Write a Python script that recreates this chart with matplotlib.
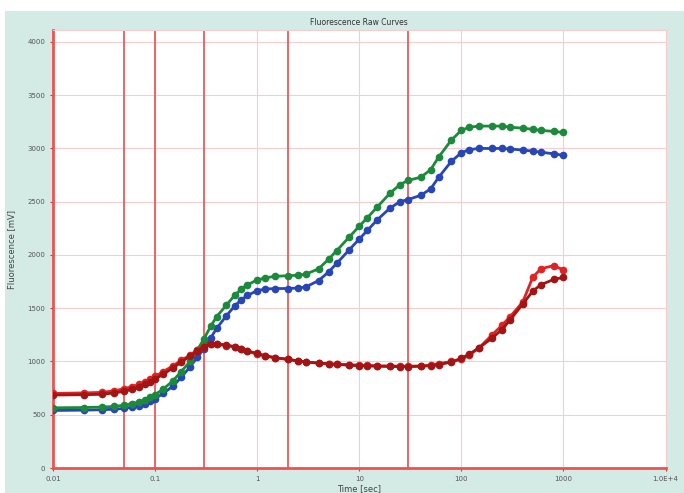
import matplotlib.pyplot as plt
from matplotlib.patches import Rectangle

# time points (s)
time = [0.01, 0.02, 0.03, 0.04, 0.05, 0.06, 0.07, 0.08, 0.09, 0.1,
        0.12, 0.15, 0.18, 0.22, 0.26, 0.3, 0.35, 0.4, 0.5, 0.6,
        0.7, 0.8, 1.0, 1.2, 1.5, 2.0, 2.5, 3, 4, 5,
        6, 8, 10, 12, 15, 20, 25, 30, 40, 50,
        60, 80, 100, 120, 150, 200, 250, 300, 400, 500,
        600, 800, 1000]

green = [565, 568, 572, 578, 590, 605, 620, 640, 665, 690,
         740, 820, 905, 1000, 1110, 1210, 1330, 1420, 1530, 1620,
         1680, 1720, 1765, 1785, 1800, 1805, 1810, 1820, 1870, 1960,
         2040, 2170, 2270, 2350, 2450, 2580, 2660, 2700, 2730, 2800,
         2920, 3080, 3170, 3200, 3210, 3210, 3210, 3200, 3190, 3180,
         3170, 3160, 3150]

blue = [540, 543, 547, 552, 560, 572, 585, 605, 625, 650,
        700, 770, 850, 950, 1040, 1120, 1220, 1310, 1430, 1520,
        1580, 1620, 1665, 1680, 1685, 1685, 1690, 1700, 1760, 1840,
        1920, 2050, 2150, 2230, 2330, 2440, 2500, 2520, 2560, 2620,
        2730, 2880, 2960, 2990, 3000, 3000, 3000, 2995, 2985, 2975,
        2965, 2950, 2935]

red = [700, 705, 710, 725, 745, 765, 785, 810, 835, 860,
       905, 960, 1010, 1060, 1110, 1145, 1160, 1160, 1150, 1135,
       1115, 1095, 1070, 1050, 1035, 1020, 1005, 995, 985, 980,
       975, 970, 965, 963, 960, 958, 956, 956, 958, 965,
       980, 1000, 1020, 1060, 1130, 1250, 1340, 1420, 1560, 1790,
       1870, 1900, 1860]

darkred = [685, 688, 692, 705, 720, 740, 760, 785, 810, 835,
           880, 940, 995, 1050, 1100, 1140, 1165, 1165, 1155, 1140,
           1120, 1100, 1075, 1055, 1035, 1020, 1005, 995, 985, 978,
           972, 965, 960, 958, 955, 953, 952, 952, 955, 960,
           970, 995, 1030, 1070, 1130, 1220, 1300, 1390, 1540, 1660,
           1720, 1770, 1790]

markers_t = [0.05, 0.1, 0.3, 2, 30]
xticks = [0.01, 0.1, 1, 10, 100, 1000, 10000]
xticklabels = ['0.01', '0.1', '1', '10', '100', '1000', '1.0E+4']
yticks = [0, 500, 1000, 1500, 2000, 2500, 3000, 3500, 4000]

fig = plt.figure(figsize=(6.84, 4.93), dpi=100)
fig.patch.set_facecolor('white')
fig.patches.append(Rectangle((5 / 684, 0), 1, 1 - 11 / 493, transform=fig.transFigure,
                             facecolor='#d4eae5', edgecolor='none', zorder=-10))

ax = fig.add_axes([0.0775, 0.0507, 0.8955, 0.888])
ax.set_facecolor('white')
ax.set_xscale('log')
ax.set_xlim(0.01, 10000)
ax.set_ylim(0, 4110)

ax.grid(True, which='major', color='#f7cccc', linewidth=0.8)
ax.minorticks_off()

for t in markers_t:
    ax.axvline(t, color='#f06464', linewidth=1.4, zorder=2)

for vals, col in [(blue, '#2747b8'), (green, '#1b8a3c'),
                  (red, '#e02424'), (darkred, '#a31414')]:
    ax.plot(time, vals, '-o', color=col, markersize=4.5, linewidth=2, zorder=3)

ax.set_xticks(xticks)
ax.set_xticklabels(xticklabels)
ax.set_yticks(yticks)
ax.tick_params(labelsize=5, colors='#555555', length=2)
ax.tick_params(axis='both', color='#e03030')

for side in ['top', 'right']:
    ax.spines[side].set_color('#f7cccc')
    ax.spines[side].set_linewidth(0.8)
for side in ['left', 'bottom']:
    ax.spines[side].set_color('#f05050')
    ax.spines[side].set_linewidth(2)

ax.set_title('Fluorescence Raw Curves', fontsize=5.5, color='#333333', pad=4)
ax.set_ylabel('Fluorescence [mV]', fontsize=6, color='#444444', labelpad=8)
ax.set_xlabel('Time [sec]', fontsize=6, color='#444444', labelpad=2)

fig.savefig('out.png', dpi=100, facecolor=fig.get_facecolor())
